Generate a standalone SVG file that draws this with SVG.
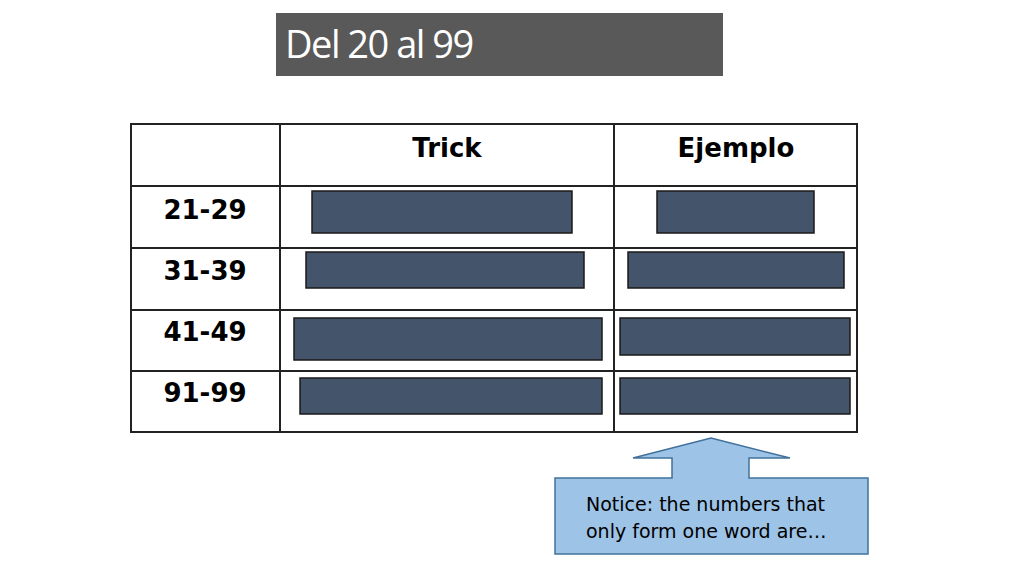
<svg xmlns="http://www.w3.org/2000/svg" width="1024" height="576" viewBox="0 0 1024 576">
<style>
.h{font-family:"DejaVu Sans",sans-serif;font-weight:bold;font-size:26px;fill:#000;text-anchor:middle}
.b{fill:#44546a;stroke:#1a1a1a;stroke-width:1.5}
.g{stroke:#222;stroke-width:2;fill:none}
</style>
<rect width="1024" height="576" fill="#fff"/>
<g id="title"><rect x="276" y="13" width="447" height="63" fill="#595959"/>
<text x="285" y="58" font-family="'Open Sans','Liberation Sans',sans-serif" font-size="38" fill="#fff" letter-spacing="-1.5">Del 20 al 99</text></g>
<g id="table">
<rect x="131" y="124" width="726" height="308" class="g" stroke-width="2.5"/>
<path class="g" d="M280 124V432M614 124V432M131 186H857M131 248H857M131 310H857M131 371H857"/>
<text class="h" x="447" y="157">Trick</text>
<text class="h" x="736" y="157">Ejemplo</text>
<text class="h" x="205" y="219">21-29</text>
<text class="h" x="205" y="280">31-39</text>
<text class="h" x="205" y="341">41-49</text>
<text class="h" x="205" y="402">91-99</text>
<rect class="b" x="312" y="191" width="260" height="42"/>
<rect class="b" x="657" y="191" width="157" height="42"/>
<rect class="b" x="306" y="252" width="278" height="36"/>
<rect class="b" x="628" y="252" width="216" height="36"/>
<rect class="b" x="294" y="318" width="308" height="42"/>
<rect class="b" x="620" y="318" width="230" height="37"/>
<rect class="b" x="300" y="378" width="302" height="36"/>
<rect class="b" x="620" y="378" width="230" height="36"/>
</g>
<g id="callout">
<path d="M555 478H672V458H633L711 438L790 458H749V478H868V554H555Z" fill="#9dc3e6" stroke="#41719c" stroke-width="1.5"/>
<text font-family="'DejaVu Sans',sans-serif" font-size="19" fill="#000"><tspan x="586" y="511">Notice: the numbers that</tspan><tspan x="586" y="538">only form one word are…</tspan></text>
</g>
</svg>
